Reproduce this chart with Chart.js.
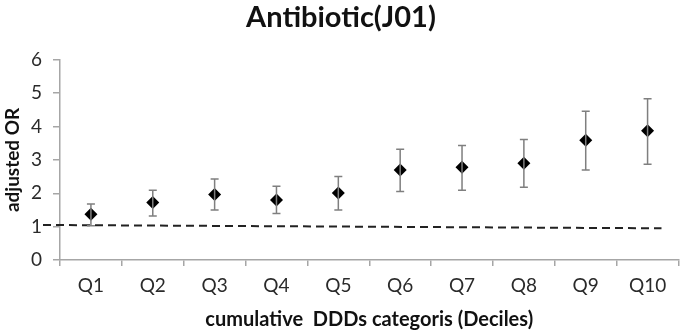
<!DOCTYPE html>
<html>
<head>
<meta charset="utf-8">
<script src="https://cdn.jsdelivr.net/npm/chart.js@4"></script>
<style>
  html, body { margin: 0; padding: 0; background: #fff; }
  #wrap { width: 685px; height: 336px; }
</style>
</head>
<body>
<div id="wrap"><canvas id="myChart"></canvas></div>
<script>
const categories = ['Q1', 'Q2', 'Q3', 'Q4', 'Q5', 'Q6', 'Q7', 'Q8', 'Q9', 'Q10'];
const oddsRatio = [1.37, 1.72, 1.96, 1.80, 2.01, 2.70, 2.78, 2.90, 3.59, 3.87];
const ciUpper = [1.68, 2.09, 2.43, 2.21, 2.50, 3.32, 3.43, 3.61, 4.46, 4.83];
const ciLower = [1.03, 1.32, 1.50, 1.39, 1.50, 2.05, 2.09, 2.18, 2.70, 2.87];
// reference line, drawn slightly tilted like the original
const refLineStart = 1.05;
const refLineEnd = 0.95;
const yTicks = [0, 1, 2, 3, 4, 5, 6];

const fontFamily = 'Lato, "Open Sans", sans-serif';

const errorBars = {
  id: 'errorBars',
  afterDatasetsDraw(chart) {
    const { ctx, scales: { x, y } } = chart;
    ctx.save();
    ctx.strokeStyle = '#7f7f7f';
    ctx.lineWidth = 1.5;
    categories.forEach((c, i) => {
      const px = x.getPixelForValue(i);
      const top = y.getPixelForValue(ciUpper[i]);
      const bot = y.getPixelForValue(ciLower[i]);
      ctx.beginPath();
      ctx.moveTo(px, top); ctx.lineTo(px, bot);
      ctx.moveTo(px - 4, top); ctx.lineTo(px + 4, top);
      ctx.moveTo(px - 4, bot); ctx.lineTo(px + 4, bot);
      ctx.stroke();
    });
    ctx.restore();
  },
  beforeDatasetsDraw(chart) {
    const { ctx, chartArea, scales: { y } } = chart;
    ctx.save();
    ctx.strokeStyle = '#222';
    ctx.lineWidth = 2;
    ctx.setLineDash([8, 5]);
    ctx.beginPath();
    ctx.moveTo(chartArea.left - 17, y.getPixelForValue(refLineStart));
    ctx.lineTo(chartArea.right - 17, y.getPixelForValue(refLineEnd));
    ctx.stroke();
    ctx.restore();
  }
};

const ctx = document.getElementById('myChart').getContext('2d');
new Chart(ctx, {
  type: 'line',
  data: {
    labels: categories,
    datasets: [{
      label: 'adjusted OR',
      data: oddsRatio,
      showLine: false,
      pointStyle: 'rectRot',
      pointRadius: 6.5,
      pointHoverRadius: 6.5,
      backgroundColor: '#000',
      borderColor: '#000',
      borderWidth: 0
    }]
  },
  options: {
    responsive: true,
    maintainAspectRatio: false,
    animation: false,
    layout: { padding: { left: 0, right: 3, top: 0, bottom: 0 } },
    scales: {
      x: {
        type: 'category',
        offset: true,
        border: { display: true, color: '#a6a6a6', width: 1.5 },
        grid: { display: true, offset: true, drawOnChartArea: false, drawTicks: true, tickLength: 6, color: '#a6a6a6', lineWidth: 1.5 },
        ticks: { color: '#2a2a2a', font: { family: fontFamily, size: 19 }, padding: 8, maxRotation: 0 },
        title: {
          display: true,
          text: 'cumulative  DDDs categoris (Deciles)',
          color: '#111',
          font: { family: fontFamily, size: 20, weight: 'bold' },
          padding: { top: 4, bottom: 4 }
        },
        afterFit(scale) { scale.height = 76; }
      },
      y: {
        min: 0,
        max: 6,
        afterBuildTicks(scale) { scale.ticks = yTicks.map(v => ({ value: v })); },
        border: { display: true, color: '#a6a6a6', width: 1.5 },
        grid: { display: true, drawOnChartArea: false, drawTicks: true, tickLength: 7, color: '#a6a6a6', lineWidth: 1.5 },
        ticks: { color: '#2a2a2a', font: { family: fontFamily, size: 19 }, padding: 11 },
        title: {
          display: true,
          text: 'adjusted OR',
          color: '#111',
          font: { family: fontFamily, size: 19, weight: 'bold' },
          padding: { top: 1, bottom: 1 }
        },
        afterFit(scale) { scale.width = 60; }
      }
    },
    plugins: {
      legend: { display: false },
      tooltip: { enabled: false },
      title: {
        display: true,
        text: 'Antibiotic(J01)',
        color: '#111',
        font: { family: fontFamily, size: 29, weight: 'bold', lineHeight: 1.2 },
        padding: { top: 0, bottom: 25 }
      }
    }
  },
  plugins: [errorBars]
});
</script>
</body>
</html>
